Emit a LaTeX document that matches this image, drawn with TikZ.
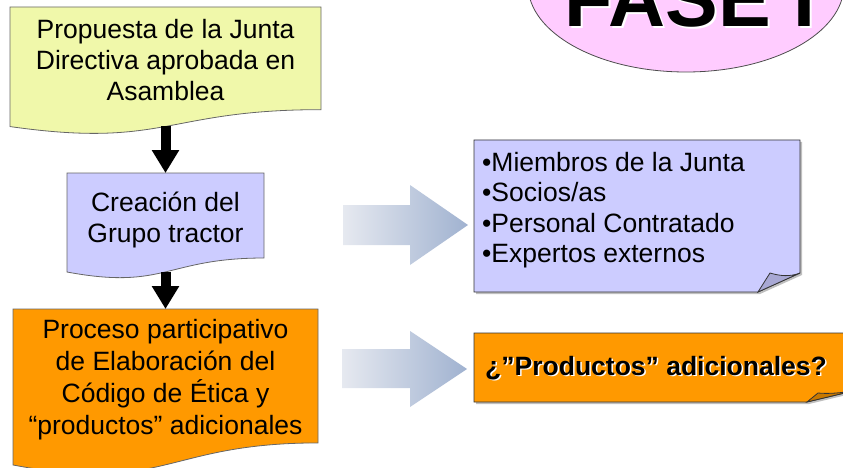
\documentclass[tikz,border=0pt]{standalone}
\usepackage{fontspec}
\setmainfont{Liberation Sans}
\usetikzlibrary{arrows.meta}

\definecolor{amarillo}{RGB}{240,248,170}
\definecolor{lila}{RGB}{204,204,255}
\definecolor{lilaosc}{RGB}{168,168,212}
\definecolor{naranja}{RGB}{255,153,0}
\definecolor{naranjaosc}{RGB}{200,120,0}
\definecolor{rosa}{RGB}{255,204,255}
\definecolor{flechaclara}{RGB}{230,233,240}
\definecolor{flechaosc}{RGB}{160,178,208}

% document shape: name, x, y (top), width, height, fill
\newcommand{\docbox}[6]{%
  \draw[boxline, fill=#6] (#2,#3) -- ({#2+#4},#3) -- ({#2+#4},{#3+0.802*#5})
    .. controls ({#2+0.5*#4},{#3+0.802*#5}) and ({#2+0.5*#4},{#3+1.1075*#5}) .. (#2,{#3+0.934*#5}) -- cycle;
  \coordinate (#1-n) at ({#2+0.5*#4},#3);
  \coordinate (#1-s) at ({#2+0.5*#4},{#3+0.93*#5});
}

\begin{document}
\begin{tikzpicture}[x=1pt, y=-1pt,
    boxline/.style={draw=black!60, line width=0.8pt},
    noteline/.style={draw=black!80, line width=0.8pt},
    flowarrow/.style={line width=10pt, -{Triangle[width=26pt,length=23pt]}},
    boxtext/.style={align=center, inner sep=0pt, font=\fontsize{26.5}{31}\selectfont},
    notetext/.style={align=left, inner sep=0pt, font=\fontsize{26.5}{30.5}\selectfont},
    boldtext/.style={inner sep=0pt, font=\fontsize{26.5}{31}\selectfont\bfseries}]
                \path[use as bounding box, clip] (0,0) rectangle (843,468);

                % Fase oval (cut by the top edge)
                \draw[fill=rosa, draw=black!70, line width=0.8pt] (686,-15) ellipse [x radius=158, y radius=87];
                \node[font=\fontsize{79}{90}\selectfont\bfseries, text=white, anchor=base] (fasesombra) at (692,29) {FASE I};
                \node[font=\fontsize{79}{90}\selectfont\bfseries, anchor=base] (fase) at (690,27) {FASE I};

                % Flowchart boxes
                \docbox{propuesta}{10}{7}{311}{128}{amarillo}   % yellow box
                \docbox{grupo}{67}{173}{197}{106}{lila}         % blue box
                \docbox{proceso}{13}{309}{305}{167}{naranja}    % orange box

                % Black arrows between the boxes
                \draw[flowarrow] (propuesta-s) -- (grupo-n);
                \draw[flowarrow] (grupo-s) -- (proceso-n);

                % Shaded block arrows
                \shade[left color=flechaclara, right color=flechaosc] (343,205) -- (410,205) -- (410,185) -- (468,225) -- (410,265) -- (410,245) -- (343,245) -- cycle;
                \shade[left color=flechaclara, right color=flechaosc] (342,349) -- (410,349) -- (410,331) -- (467,369) -- (410,407) -- (410,388) -- (342,388) -- cycle;

                % Note with folded corner (members)
                \fill[black!25] (476,142) -- (802,142) -- (802,275) -- (760,294) -- (476,294) -- cycle; % shadow
                \draw[noteline, fill=lila] (474,140) -- (800,140) -- (800,273) -- (758,292) -- (474,292) -- cycle;
                \draw[noteline, fill=lilaosc] (800,273) .. controls (790,277) and (780,276) .. (770,273) -- (758,292) -- cycle;

                % Note with folded corner (products)
                \fill[black!25] (476,335) -- (855,335) -- (855,393) -- (809,404) -- (476,404) -- cycle; % shadow
                \draw[noteline, fill=naranja] (474,333) -- (853,333) -- (853,391) -- (807,402) -- (474,402) -- cycle;
                \draw[noteline, fill=naranjaosc] (853,391) .. controls (840,393) and (828,394) .. (818,393) -- (807,402) -- cycle;

                % Labels
                \node[boxtext, anchor=north] (propuesta) at (165.5,19) {Propuesta de la Junta\\Directiva aprobada en\\Asamblea};
                \node[boxtext, anchor=north] (grupo) at (165.5,191.5) {Creación del\\Grupo tractor};
                \node[boxtext, font=\fontsize{26.5}{32}\selectfont, anchor=north] (proceso) at (165.5,319) {Proceso participativo\\de Elaboración del\\Código de Ética y\\“productos” adicionales};
                \node[notetext, anchor=north west] (miembros) at (482,152) {•Miembros de la Junta\\•Socios/as\\•Personal Contratado\\•Expertos externos};
                \node[boldtext, text=white, anchor=base] (productossombra) at (657.5,376.5) {¿”Productos” adicionales?};
                \node[boldtext, anchor=base] (productos) at (656,375) {¿”Productos” adicionales?};

            \end{tikzpicture}
\end{document}
